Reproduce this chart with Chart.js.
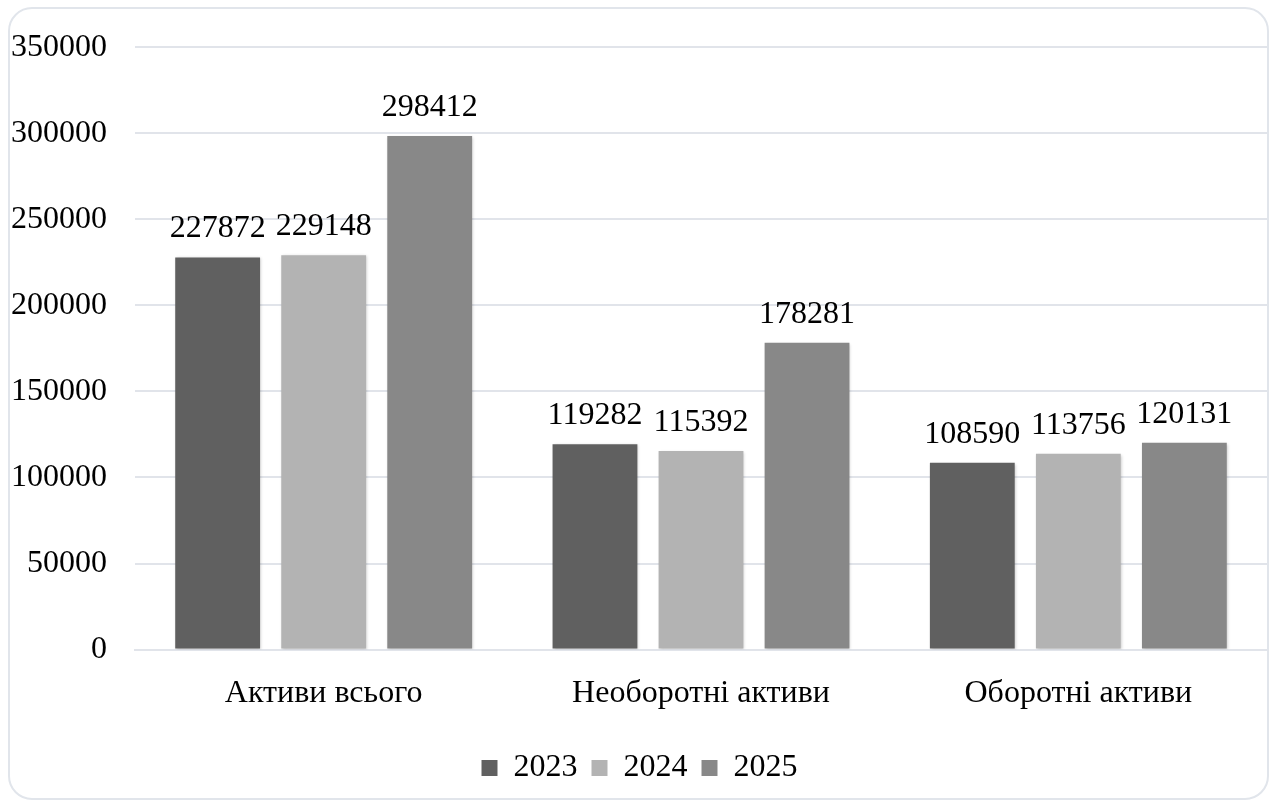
<!DOCTYPE html>
<html lang="uk">
<head>
    <meta charset="utf-8" />
    <title>Активи</title>
    <style>
        html, body {
            margin: 0;
            padding: 0;
            background: #fff;
        }
        #card {
            position: absolute;
            left: 8px;
            top: 7px;
            width: 1257px;
            height: 789px;
            border: 2px solid #e1e5eb;
            border-radius: 24px;
            box-sizing: content-box;
        }
        #wrap {
            position: absolute;
            left: 0;
            top: 0;
            width: 1269px;
            height: 800px;
        }
    </style>
</head>
<body>
    <div id="card"></div>
    <div id="wrap">
        <canvas id="assetsChart" width="1269" height="800"></canvas>
    </div>
    <script src="https://cdn.jsdelivr.net/npm/chart.js"></script>
    <script>
        var categories = ['Активи всього', 'Необоротні активи', 'Оборотні активи'];
        var years = ['2023', '2024', '2025'];
        var values2023 = [227872, 119282, 108590];
        var values2024 = [229148, 115392, 113756];
        var values2025 = [298412, 178281, 120131];
        var yTicks = [0, 50000, 100000, 150000, 200000, 250000, 300000, 350000];
        var barColors = ['#606060', '#b3b3b3', '#888888'];

        var serif = "'Liberation Serif', 'Times New Roman', serif";

        // soft shadow under each bar
        var barShadow = {
            id: 'barShadow',
            beforeDatasetDraw: function (chart) {
                var ctx = chart.ctx;
                ctx.save();
                ctx.shadowColor = 'rgba(0, 0, 0, 0.22)';
                ctx.shadowBlur = 3;
                ctx.shadowOffsetX = 1;
                ctx.shadowOffsetY = 1;
            },
            afterDatasetDraw: function (chart) {
                chart.ctx.restore();
            }
        };

        // value printed above each bar
        var valueLabels = {
            id: 'valueLabels',
            afterDatasetsDraw: function (chart) {
                var ctx = chart.ctx;
                ctx.save();
                ctx.font = '32px ' + serif;
                ctx.fillStyle = '#000';
                ctx.textAlign = 'center';
                ctx.textBaseline = 'alphabetic';
                chart.data.datasets.forEach(function (ds, i) {
                    chart.getDatasetMeta(i).data.forEach(function (bar, j) {
                        ctx.fillText(String(ds.data[j]), bar.x, bar.y - 20);
                    });
                });
                ctx.restore();
            }
        };

        var ctx = document.getElementById('assetsChart').getContext('2d');
        var myBarChart = new Chart(ctx, {
            type: 'bar',
            data: {
                labels: categories,
                datasets: [
                    { label: years[0], data: values2023, backgroundColor: barColors[0] },
                    { label: years[1], data: values2024, backgroundColor: barColors[1] },
                    { label: years[2], data: values2025, backgroundColor: barColors[2] }
                ]
            },
            options: {
                responsive: false,
                animation: false,
                categoryPercentage: 0.843,
                barPercentage: 0.8,
                layout: {
                    padding: { left: 12, right: 2, top: 37, bottom: 6 }
                },
                plugins: {
                    tooltip: { enabled: false },
                    legend: {
                        position: 'bottom',
                        labels: {
                            color: '#000',
                            font: { family: serif, size: 32 },
                            boxWidth: 16,
                            boxHeight: 16,
                            padding: 14
                        }
                    }
                },
                scales: {
                    x: {
                        grid: { display: false, drawTicks: false },
                        border: { color: '#e1e4ea', width: 2 },
                        ticks: {
                            color: '#000',
                            font: { family: serif, size: 32 },
                            padding: 25,
                            maxRotation: 0
                        }
                    },
                    y: {
                        min: 0,
                        max: 350000,
                        afterBuildTicks: function (scale) {
                            scale.ticks = yTicks.map(function (v) { return { value: v }; });
                        },
                        afterFit: function (scale) {
                            scale.width = 123;
                        },
                        grid: { color: '#e1e4ea', lineWidth: 2, drawTicks: false },
                        border: { display: false },
                        ticks: {
                            color: '#000',
                            font: { family: serif, size: 32 },
                            padding: 28,
                            callback: function (v) { return String(v); }
                        }
                    }
                }
            },
            plugins: [barShadow, valueLabels]
        });
    </script>
</body>
</html>
